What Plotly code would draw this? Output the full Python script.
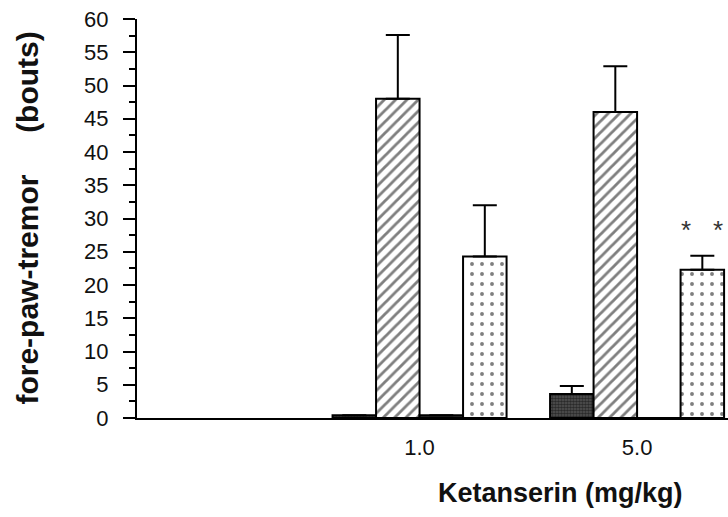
import plotly.graph_objects as go

doses = [1, 2]
dose_labels = ["1.0", "5.0"]

s1_vals = [0.4, 3.6]
s1_err = [0.0, 1.2]
s2_vals = [48.0, 46.0]
s2_err = [9.6, 6.9]
s3_vals = [0.4, 0.0]
s3_err = [0.0, 0.0]
s4_vals = [24.3, 22.3]
s4_err = [7.7, 2.1]

y_ticks = list(range(0, 61, 5))

def err(a):
    return dict(type="data", symmetric=False, array=a, arrayminus=[0] * len(a),
                color="black", thickness=2, width=12)

fig = go.Figure()
fig.add_trace(go.Bar(x=doses, y=s1_vals, error_y=err(s1_err),
                     marker=dict(color="#2b2b2b", line=dict(color="black", width=2),
                                 pattern=dict(shape=".", fgcolor="#000", bgcolor="#555", size=3, solidity=0.6))))
fig.add_trace(go.Bar(x=doses, y=s2_vals, error_y=err(s2_err),
                     marker=dict(color="white", line=dict(color="black", width=2),
                                 pattern=dict(shape="/", fgcolor="black", bgcolor="white", size=8, solidity=0.35))))
fig.add_trace(go.Bar(x=doses, y=s3_vals, error_y=err(s3_err),
                     marker=dict(color="#2b2b2b", line=dict(color="black", width=2))))
fig.add_trace(go.Bar(x=doses, y=s4_vals, error_y=err(s4_err),
                     marker=dict(color="white", line=dict(color="black", width=2),
                                 pattern=dict(shape=".", fgcolor="black", bgcolor="white", size=10, solidity=0.12))))

fig.update_layout(
    width=728, height=517,
    margin=dict(l=137, r=0, t=19, b=99),
    paper_bgcolor="white", plot_bgcolor="white",
    barmode="group", bargap=0.2, bargroupgap=0,
    showlegend=False,
    font=dict(family="Liberation Sans, Arial, sans-serif", color="#111"),
    xaxis=dict(range=[-0.299, 2.418], tickvals=doses, ticktext=dose_labels,
               showline=True, linecolor="black", linewidth=2, ticks="",
               showgrid=False, zeroline=False, tickfont=dict(size=22),
               ticklabelstandoff=9),
    yaxis=dict(range=[0, 60], tickvals=y_ticks, showline=True, linecolor="black",
               linewidth=2, ticks="outside", ticklen=12, tickwidth=2, tickcolor="black",
               minor=dict(dtick=2.5, ticks="outside", ticklen=6, tickwidth=2, tickcolor="black"),
               showgrid=False, zeroline=False, tickfont=dict(size=22),
               ticklabelstandoff=10),
    annotations=[
        dict(text="Ketanserin (mg/kg)", xref="paper", yref="paper", x=0.717, y=-0.188,
             showarrow=False, font=dict(size=27, color="#111"), xanchor="center", yanchor="middle"),
        dict(text="fore-paw-tremor     (bouts)", xref="paper", yref="paper", x=-0.186, y=0.5,
             textangle=-90, showarrow=False, font=dict(size=30, color="#111"),
             xanchor="center", yanchor="middle"),
        dict(text="*", x=2.225, y=28.3, xref="x", yref="y", showarrow=False,
             font=dict(size=26, color="#333")),
        dict(text="*", x=2.372, y=28.3, xref="x", yref="y", showarrow=False,
             font=dict(size=26, color="#333")),
    ],
)
for a in fig.layout.annotations[:2]:
    a.font.weight = "bold"

fig.write_html("out.html")
